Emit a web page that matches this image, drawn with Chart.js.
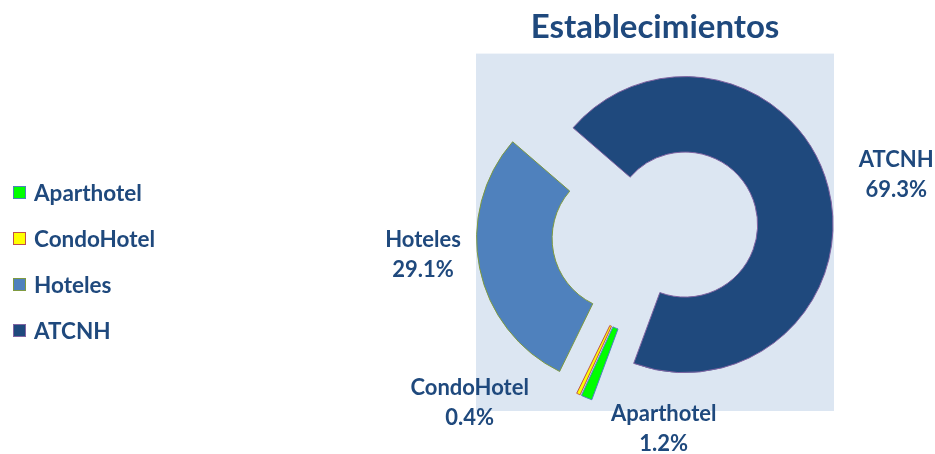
<!DOCTYPE html>
<html lang="es">
<head>
<meta charset="utf-8">
<title>Establecimientos</title>
<script src="https://cdn.jsdelivr.net/npm/chart.js@4.4.1/dist/chart.umd.min.js"></script>
<style>
  html, body { margin: 0; padding: 0; background: #fff; }
  .wrap { position: relative; width: 935px; height: 454px; }
  #chart { position: absolute; left: 0; top: 0; }

  /* legend is plain HTML, built from the chart's own legend items */
  .legend {
    position: absolute; left: 13px; top: 169px;
    margin: 0; padding: 0; list-style: none;
    font: bold 22.5px Lato, sans-serif; color: #1F497D;
  }
  .legend li { display: flex; align-items: center; height: 46px; }
  .legend .swatch {
    display: inline-block; width: 11px; height: 11px;
    border: 1px solid; margin-right: 8px;
  }
</style>
</head>
<body>
<div class="wrap">
  <canvas id="chart" width="935" height="454"></canvas>
  <ul class="legend" id="legend"></ul>
</div>

<script>
// ---- data ----
const categories = ['Aparthotel', 'CondoHotel', 'Hoteles', 'ATCNH'];
const shares     = [1.2, 0.4, 29.1, 69.3];   // % of establishments

// ---- styles ----
const sliceFill   = ['#00FF00', '#FFFF00', '#4F81BD', '#1F497D'];
const sliceBorder = ['#4F81BD', '#C0504D', '#7F9A40', '#8064A2'];
const INK = '#1F497D';
const FONT = 'Lato, sans-serif';
const EXPLODE = 31;   // px every slice is pulled out from the centre

// where each label sits: degrees turned off the slice's mid angle, and px from centre
const labelTurn = [-25, 22, 6, 1];
const labelDist = [197, 252, 233, 248];

// light blue square behind the doughnut (= chart area)
const plotBackground = {
  id: 'plotBackground',
  beforeDraw(chart) {
    const { ctx, chartArea: a } = chart;
    ctx.save();
    ctx.fillStyle = '#DCE6F2';
    ctx.fillRect(a.left, a.top, a.width, a.height);
    ctx.restore();
  }
};

// Excel-style explode: slide each arc out along its mid angle.
// (Chart.js' own `offset` also shrinks radius/angle, which eats the thin slices.)
const explode = {
  id: 'explode',
  afterDatasetUpdate(chart, args) {
    args.meta.data.forEach((arc) => {
      const mid = (arc.startAngle + arc.endAngle) / 2;
      arc.x += Math.cos(mid) * EXPLODE;
      arc.y += Math.sin(mid) * EXPLODE;
    });
  }
};

// two-line category / percent labels round the ring
const sliceLabels = {
  id: 'sliceLabels',
  afterDatasetsDraw(chart) {
    const { ctx, chartArea: a } = chart;
    const cx = (a.left + a.right) / 2;
    const cy = (a.top + a.bottom) / 2;
    const meta  = chart.getDatasetMeta(0);
    const total = shares.reduce((s, v) => s + v, 0);
    ctx.save();
    ctx.font = 'bold 22px ' + FONT;
    ctx.fillStyle = INK;
    ctx.textAlign = 'center';
    ctx.textBaseline = 'middle';
    meta.data.forEach((arc, i) => {
      const ang = (arc.startAngle + arc.endAngle) / 2 + labelTurn[i] * Math.PI / 180;
      const x = cx + Math.cos(ang) * labelDist[i];
      const y = cy + Math.sin(ang) * labelDist[i];
      ctx.fillText(categories[i], x, y - 15);
      ctx.fillText((shares[i] / total * 100).toFixed(1) + '%', x, y + 15);
    });
    ctx.restore();
  }
};

const chart = new Chart(document.getElementById('chart'), {
  type: 'doughnut',
  data: {
    labels: categories,
    datasets: [{
      data: shares,
      backgroundColor: sliceFill,
      borderColor: sliceBorder,
      borderWidth: 1
    }]
  },
  options: {
    responsive: false,
    animation: false,
    events: [],
    rotation: 200.3,
    radius: 148,
    cutout: '49%',
    layout: { padding: { left: 476, right: 101, top: 0, bottom: 43 } },
    plugins: {
      legend: { display: false },
      tooltip: { enabled: false },
      title: {
        display: true,
        fullSize: false,
        text: 'Establecimientos',
        color: INK,
        font: { family: FONT, size: 33, weight: 'bold' },
        padding: { top: 8, bottom: 6 }
      }
    }
  },
  plugins: [plotBackground, explode, sliceLabels]
});

// ---- HTML legend from the chart's legend items ----
const legendEl = document.getElementById('legend');
chart.options.plugins.legend.labels.generateLabels(chart).forEach((item) => {
  const li = document.createElement('li');
  const sw = document.createElement('span');
  sw.className = 'swatch';
  sw.style.background = item.fillStyle;
  sw.style.borderColor = item.strokeStyle;
  li.appendChild(sw);
  li.appendChild(document.createTextNode(item.text));
  legendEl.appendChild(li);
});
</script>
</body>
</html>
